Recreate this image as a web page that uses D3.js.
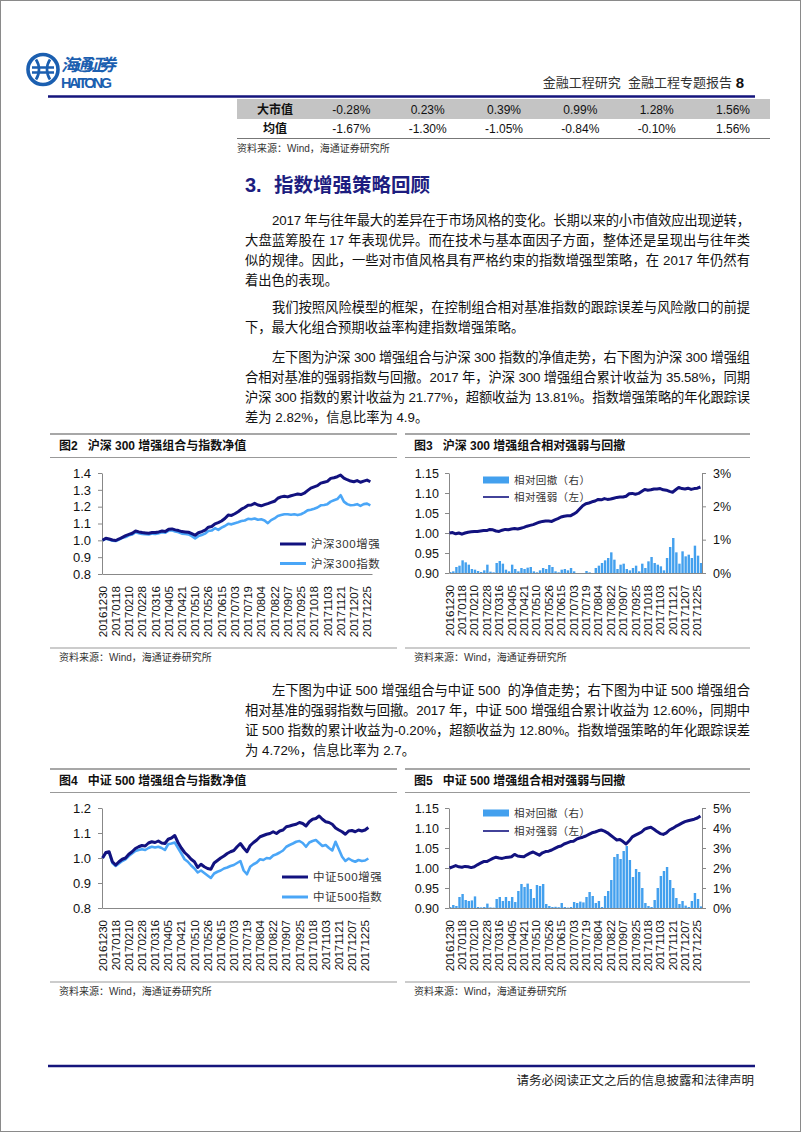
<!DOCTYPE html>
<html><head><meta charset="utf-8">
<script src="https://cdn.jsdelivr.net/npm/d3@7"></script>
<style>
body{margin:0;background:#fff;}
svg{display:block;}
text{font-family:"Liberation Sans",Arial,"Noto Sans CJK SC",sans-serif;white-space:pre;}
</style></head><body>
<svg id="page" width="802" height="1133"></svg>
<script>
// ---------- DATA ----------
const tableCols = ["大市值","均值"];
const tableRow1 = ["-0.28%","0.23%","0.39%","0.99%","1.28%","1.56%"];
const tableRow2 = ["-1.67%","-1.30%","-1.05%","-0.84%","-0.10%","1.56%"];

const xTickLabels = ["20161230","20170118","20170210","20170228","20170316","20170405","20170421","20170510","20170526","20170615","20170703","20170719","20170804","20170822","20170907","20170925","20171018","20171103","20171121","20171207","20171225"];
const nDays = 245;        // trading days 20161230..20171229
const labelEvery = 12;    // one label every 12 trading days
const dayStep = 3;        // values below are sampled every 3 trading days

const hs300Enh = [1.000,1.012,1.008,1.002,0.999,1.008,1.018,1.028,1.035,1.042,1.055,1.050,1.046,1.044,1.042,1.047,1.046,1.050,1.055,1.052,1.066,1.068,1.062,1.058,1.052,1.050,1.048,1.040,1.030,1.045,1.052,1.060,1.078,1.082,1.098,1.105,1.115,1.130,1.150,1.148,1.158,1.170,1.185,1.195,1.208,1.210,1.220,1.210,1.205,1.212,1.218,1.225,1.232,1.250,1.258,1.262,1.258,1.265,1.270,1.275,1.272,1.280,1.295,1.310,1.318,1.325,1.340,1.345,1.350,1.368,1.372,1.378,1.388,1.370,1.360,1.352,1.348,1.355,1.345,1.352,1.358,1.348];
const hs300Idx = [1.000,1.010,1.005,0.998,0.996,1.005,1.015,1.020,1.030,1.035,1.048,1.042,1.038,1.036,1.035,1.040,1.038,1.042,1.048,1.045,1.058,1.060,1.052,1.048,1.040,1.038,1.035,1.025,1.012,1.025,1.032,1.040,1.055,1.058,1.072,1.062,1.075,1.085,1.098,1.095,1.102,1.108,1.115,1.118,1.128,1.125,1.130,1.122,1.125,1.118,1.102,1.120,1.130,1.145,1.150,1.155,1.155,1.152,1.155,1.150,1.155,1.165,1.178,1.182,1.188,1.195,1.208,1.210,1.215,1.230,1.238,1.245,1.268,1.230,1.215,1.208,1.210,1.215,1.205,1.215,1.218,1.208];
const hs300Rel = [1.000,1.001,0.998,1.000,0.997,1.000,1.002,1.003,1.004,1.004,1.005,1.006,1.006,1.009,1.008,1.005,1.004,1.007,1.009,1.008,1.010,1.011,1.010,1.012,1.014,1.017,1.019,1.021,1.024,1.027,1.029,1.030,1.030,1.029,1.033,1.036,1.040,1.042,1.043,1.043,1.047,1.052,1.060,1.068,1.073,1.075,1.078,1.080,1.084,1.083,1.086,1.084,1.085,1.087,1.089,1.090,1.090,1.092,1.098,1.099,1.097,1.099,1.104,1.109,1.107,1.108,1.110,1.110,1.111,1.108,1.107,1.104,1.102,1.108,1.114,1.111,1.110,1.112,1.109,1.111,1.112,1.115];
const hs300DD = [0.03,0.05,0.18,0.22,0.38,0.32,0.25,0.12,0.10,0.06,0.03,0.08,0.25,0.04,0.02,0.30,0.36,0.28,0.10,0.05,0.25,0.12,0.05,0.15,0.12,0.16,0.18,0.05,0.02,0.08,0.15,0.12,0.24,0.18,0.05,0.02,0.10,0.12,0.08,0.15,0.05,0.00,0.00,0.00,0.06,0.02,0.00,0.15,0.22,0.30,0.38,0.45,0.62,0.40,0.12,0.25,0.28,0.12,0.08,0.15,0.22,0.05,0.28,0.15,0.35,0.48,0.30,0.25,0.20,0.08,0.45,0.78,1.05,0.62,0.28,0.65,0.50,0.55,0.45,0.82,0.52,0.30];

const zz500Enh = [1.000,1.022,1.025,0.985,0.972,0.985,0.995,1.000,1.015,1.025,1.038,1.045,1.050,1.048,1.060,1.065,1.062,1.068,1.060,1.058,1.075,1.080,1.090,1.062,1.040,1.022,1.010,0.995,0.985,0.962,0.975,0.965,0.958,0.955,0.980,0.990,1.000,1.008,1.018,1.025,1.030,1.045,1.058,1.040,1.025,1.050,1.062,1.072,1.085,1.090,1.095,1.098,1.105,1.098,1.108,1.112,1.125,1.128,1.132,1.135,1.142,1.138,1.128,1.145,1.155,1.158,1.168,1.155,1.145,1.142,1.135,1.120,1.112,1.105,1.095,1.108,1.110,1.105,1.112,1.108,1.112,1.122];
const zz500Idx = [1.000,1.020,1.022,0.980,0.968,0.978,0.988,0.995,1.008,1.018,1.028,1.032,1.035,1.032,1.040,1.045,1.042,1.045,1.040,1.032,1.055,1.058,1.062,1.040,1.018,0.995,0.985,0.970,0.958,0.942,0.950,0.940,0.930,0.920,0.938,0.945,0.950,0.958,0.962,0.968,0.972,0.980,0.988,0.950,0.935,0.965,0.975,0.982,0.995,0.992,1.000,0.998,1.010,1.015,1.022,1.030,1.045,1.052,1.058,1.065,1.068,1.060,1.045,1.062,1.068,1.072,1.060,1.048,1.052,1.040,1.030,1.065,1.035,1.005,0.988,0.998,0.990,0.985,0.992,0.988,0.990,0.998];
const zz500Rel = [1.000,1.003,1.006,1.003,1.002,1.004,1.003,1.001,1.003,1.008,1.012,1.016,1.016,1.020,1.024,1.027,1.025,1.024,1.026,1.027,1.028,1.034,1.030,1.029,1.028,1.033,1.037,1.040,1.036,1.032,1.038,1.041,1.042,1.045,1.049,1.053,1.055,1.060,1.063,1.066,1.067,1.072,1.075,1.077,1.080,1.084,1.088,1.090,1.093,1.095,1.092,1.088,1.082,1.076,1.070,1.071,1.066,1.060,1.068,1.078,1.082,1.086,1.090,1.097,1.100,1.102,1.097,1.091,1.086,1.084,1.088,1.095,1.099,1.104,1.108,1.112,1.116,1.118,1.120,1.122,1.125,1.130];
const zz500DD = [0.05,0.15,0.10,0.55,0.70,0.40,0.35,0.38,0.58,0.05,0.03,0.05,0.22,0.03,0.02,0.45,0.55,0.35,0.55,0.35,0.55,0.30,0.85,1.20,1.05,1.22,0.95,0.50,1.15,1.10,1.20,0.20,0.10,0.05,0.06,0.04,0.25,0.05,0.02,0.05,0.30,0.25,0.32,0.28,0.55,0.80,0.60,0.25,0.35,0.05,0.60,0.85,1.40,2.55,2.70,2.45,2.85,3.10,2.40,1.55,1.95,1.80,1.00,0.25,0.10,0.05,0.40,1.00,1.60,1.85,2.05,1.40,1.00,0.50,0.20,0.35,0.12,0.05,0.35,0.75,0.45,0.08];

// ---------- PAGE ----------
const svg = d3.select('#page');
const NAVY = '#15157c', DARK = '#12127f', LIGHT = '#4aa6f7', BAR = '#43a0ee', AX = '#888';

svg.append('rect').attr('x',0.5).attr('y',0.5).attr('width',800).attr('height',1131)
  .attr('fill','#fff').attr('stroke','#8a8a8a');

function T(x,y,s,o={}){
  const t = svg.append('text').attr('x',x).attr('y',y).text(s)
    .attr('font-size',o.size||13).attr('fill',o.fill||'#111')
    .attr('font-weight',o.weight||'normal').attr('text-anchor',o.anchor||'start');
  if(o.len){t.attr('textLength',o.len).attr('lengthAdjust','spacing');}
  return t;
}

// Logo
const logo = svg.append('g').attr('transform','translate(43,69.5)');
logo.append('circle').attr('r',15).attr('fill','none').attr('stroke','#1b5fb0').attr('stroke-width',3.6);
logo.append('path').attr('d','M-7,-10 C-3,-4 -3,4 -7,10 M7,-10 C3,-4 3,4 7,10 M-11,-2 L11,-2 M-11,3 L11,3')
  .attr('fill','none').attr('stroke','#1b5fb0').attr('stroke-width',2.7);
T(61,71,'海通证券',{size:17,fill:'#1b5fb0',weight:'bold',len:55}).attr('font-style','italic');
T(61,88,'HAITONG',{size:14.5,fill:'#1b5fb0',weight:'bold',len:51});
T(732,87,'金融工程研究  金融工程专题报告',{size:13,fill:'#333',anchor:'end'});
T(744,87.5,'8',{size:15,fill:'#111',weight:'bold',anchor:'end'});
svg.append('line').attr('x1',48).attr('x2',755).attr('y1',96.5).attr('y2',96.5).attr('stroke',NAVY).attr('stroke-width',2.5);

// Table
svg.append('rect').attr('x',237).attr('y',99).attr('width',533).attr('height',20).attr('fill','#c4c4c4');
const colX = d3.scalePoint().domain(d3.range(7)).range([275,733]);
T(colX(0),113.5,tableCols[0],{size:12,weight:'bold',anchor:'middle'});
T(colX(0),132.5,tableCols[1],{size:12,weight:'bold',anchor:'middle'});
tableRow1.forEach((v,i)=>T(colX(i+1),113.5,v,{size:12,anchor:'middle'}));
tableRow2.forEach((v,i)=>T(colX(i+1),132.5,v,{size:12,anchor:'middle'}));
svg.append('line').attr('x1',237).attr('x2',770).attr('y1',138.5).attr('y2',138.5).attr('stroke','#777').attr('stroke-width',1);
T(237,152,'资料来源：Wind，海通证券研究所',{size:10,fill:'#333'});

// Heading
T(245,192,'3.',{size:20,weight:'bold',fill:'#1d1d80'});
T(274,192,'指数增强策略回顾',{size:19.5,weight:'bold',fill:'#1d1d80'});

// Body text
const LS = 20, R = 750, L0 = 245, LI = 272;
const paras = [
  {y:225, lines:["2017 年与往年最大的差异在于市场风格的变化。长期以来的小市值效应出现逆转，","大盘蓝筹股在 17 年表现优异。而在技术与基本面因子方面，整体还是呈现出与往年类","似的规律。因此，一些对市值风格具有严格约束的指数增强型策略，在 2017 年仍然有","着出色的表现。"]},
  {y:312, lines:["我们按照风险模型的框架，在控制组合相对基准指数的跟踪误差与风险敞口的前提","下，最大化组合预期收益率构建指数增强策略。"]},
  {y:362, lines:["左下图为沪深 300 增强组合与沪深 300 指数的净值走势，右下图为沪深 300 增强组","合相对基准的强弱指数与回撤。2017 年，沪深 300 增强组合累计收益为 35.58%，同期","沪深 300 指数的累计收益为 21.77%，超额收益为 13.81%。指数增强策略的年化跟踪误","差为 2.82%，信息比率为 4.9。"]},
  {y:695, lines:["左下图为中证 500 增强组合与中证 500  的净值走势；右下图为中证 500 增强组合","相对基准的强弱指数与回撤。2017 年，中证 500 增强组合累计收益为 12.60%，同期中","证 500 指数的累计收益为-0.20%，超额收益为 12.80%。指数增强策略的年化跟踪误差","为 4.72%，信息比率为 2.7。"]}
];
paras.forEach(p=>{
  p.lines.forEach((s,i)=>{
    const x = i===0 ? LI : L0;
    const last = i===p.lines.length-1 && p.lines.length>1;
    T(x,p.y+i*LS,s,{size:13.3,fill:'#111',len: last?null:(R-x)});
  });
});

// Figure frames
function frame(x1,x2,yTop,title,ySrcLine){
  svg.append('line').attr('x1',x1).attr('x2',x2).attr('y1',yTop).attr('y2',yTop).attr('stroke','#8a8a8a').attr('stroke-width',1.5);
  T(x1+9,yTop+16,title,{size:12,weight:'bold',fill:'#111'});
  svg.append('line').attr('x1',x1).attr('x2',x2).attr('y1',yTop+23.5).attr('y2',yTop+23.5).attr('stroke','#999').attr('stroke-width',1);
  svg.append('line').attr('x1',x1).attr('x2',x2).attr('y1',ySrcLine).attr('y2',ySrcLine).attr('stroke','#999').attr('stroke-width',1);
  T(x1+9,ySrcLine+13,'资料来源：Wind，海通证券研究所',{size:10,fill:'#333'});
}
frame(50,397,434,'图2   沪深 300 增强组合与指数净值',648);
frame(405,750,434,'图3   沪深 300 增强组合相对强弱与回撤',648);
frame(50,397,769,'图4   中证 500 增强组合与指数净值',982);
frame(405,750,769,'图5   中证 500 增强组合相对强弱与回撤',982);

function styleAxis(g,size){
  g.select('.domain').attr('stroke',AX);
  g.selectAll('.tick line').attr('stroke',AX);
  g.selectAll('.tick text').attr('font-size',size).attr('fill','#111').attr('font-family','"Liberation Sans",Arial,sans-serif');
}

function chart(c){
  const g = svg.append('g');
  const x = d3.scaleBand().domain(d3.range(nDays)).range([c.left,c.right]).paddingInner(0);
  const y = d3.scaleLinear().domain(c.yDomain).range([c.bottom,c.top]);
  const cx = k => x(k*dayStep) + x.bandwidth()/2;
  if(c.bars){
    const yr = d3.scaleLinear().domain(c.rDomain).range([c.bottom,c.top]);
    g.append('g').selectAll('rect').data(c.bars).join('rect')
      .attr('x',(d,k)=>x(k*dayStep)).attr('width',x.step()*dayStep*0.78)
      .attr('y',d=>yr(d)).attr('height',d=>yr(0)-yr(d)).attr('fill',BAR);
    const ra = g.append('g').attr('transform',`translate(${c.right},0)`)
      .call(d3.axisRight(yr).tickValues(c.rTicks).tickFormat(d=>d+'%').tickSize(4).tickSizeOuter(0).tickPadding(7));
    styleAxis(ra,c.ySize);
  }
  const la = g.append('g').attr('transform',`translate(${c.left},0)`)
    .call(d3.axisLeft(y).tickValues(c.yTicks).tickFormat(d3.format(c.yFmt)).tickSize(4).tickSizeOuter(0).tickPadding(c.yPad));
  styleAxis(la,c.ySize);
  const xa = g.append('g').attr('transform',`translate(0,${c.bottom})`)
    .call(d3.axisBottom(x).tickValues(d3.range(0,nDays,labelEvery)).tickFormat(i=>xTickLabels[i/labelEvery]).tickSize(0).tickSizeOuter(0));
  styleAxis(xa,11.5);
  xa.selectAll('.tick text').attr('transform','rotate(-90)').attr('x',-12).attr('y',0).attr('dy','0.36em')
    .attr('text-anchor','end');
  c.lines.forEach(l=>{
    g.append('path').datum(l.data).attr('fill','none').attr('stroke',l.color).attr('stroke-width',l.w)
      .attr('stroke-linejoin','round').attr('d',d3.line().x((d,k)=>cx(k)).y(d=>y(d)));
  });
  c.legend.forEach((e,i)=>{
    const ly = c.legY + i*c.legGap;
    if(e.type==='bar') g.append('rect').attr('x',c.legX).attr('y',ly-3.5).attr('width',26).attr('height',7).attr('fill',BAR);
    else g.append('line').attr('x1',c.legX).attr('x2',c.legX+26).attr('y1',ly).attr('y2',ly).attr('stroke',e.color).attr('stroke-width',e.w);
    g.append('text').attr('x',c.legX+31).attr('y',ly+4).text(e.label).attr('font-size',c.legSize).attr('fill','#333')
      .attr('letter-spacing',c.legSpacing);
  });
}

chart({left:102,right:372,top:473,bottom:574,yDomain:[0.8,1.4],yTicks:[0.8,0.9,1.0,1.1,1.2,1.3,1.4],yFmt:'.1f',ySize:13,yPad:7,
  lines:[{data:hs300Idx,color:LIGHT,w:2.6},{data:hs300Enh,color:DARK,w:3}],
  legend:[{label:'沪深300增强',color:DARK,w:3},{label:'沪深300指数',color:LIGHT,w:3}],
  legX:280,legY:544,legGap:19.5,legSize:11.5,legSpacing:0.6});

chart({left:449,right:702,top:473,bottom:573,yDomain:[0.90,1.15],yTicks:[0.90,0.95,1.00,1.05,1.10,1.15],yFmt:'.2f',ySize:12.5,yPad:6,
  bars:hs300DD,rDomain:[0,3],rTicks:[0,1,2,3],
  lines:[{data:hs300Rel,color:DARK,w:3}],
  legend:[{label:'相对回撤（右）',type:'bar'},{label:'相对强弱（左）',color:DARK,w:1.6}],
  legX:483,legY:480,legGap:17,legSize:10.5,legSpacing:0.4});

chart({left:102,right:370,top:808,bottom:908,yDomain:[0.8,1.2],yTicks:[0.8,0.9,1.0,1.1,1.2],yFmt:'.1f',ySize:13,yPad:7,
  lines:[{data:zz500Idx,color:LIGHT,w:2.6},{data:zz500Enh,color:DARK,w:3}],
  legend:[{label:'中证500增强',color:DARK,w:3},{label:'中证500指数',color:LIGHT,w:3}],
  legX:282,legY:877,legGap:20,legSize:11.5,legSpacing:0.6});

chart({left:449,right:702,top:808,bottom:908,yDomain:[0.90,1.15],yTicks:[0.90,0.95,1.00,1.05,1.10,1.15],yFmt:'.2f',ySize:12.5,yPad:6,
  bars:zz500DD,rDomain:[0,5],rTicks:[0,1,2,3,4,5],
  lines:[{data:zz500Rel,color:DARK,w:3}],
  legend:[{label:'相对回撤（右）',type:'bar'},{label:'相对强弱（左）',color:DARK,w:1.6}],
  legX:483,legY:813,legGap:18,legSize:10.5,legSpacing:0.4});

// Footer
svg.append('line').attr('x1',48).attr('x2',755).attr('y1',1066).attr('y2',1066).attr('stroke',NAVY).attr('stroke-width',2.5);
T(754,1085,'请务必阅读正文之后的信息披露和法律声明',{size:12.5,fill:'#222',anchor:'end'});
</script></body></html>
